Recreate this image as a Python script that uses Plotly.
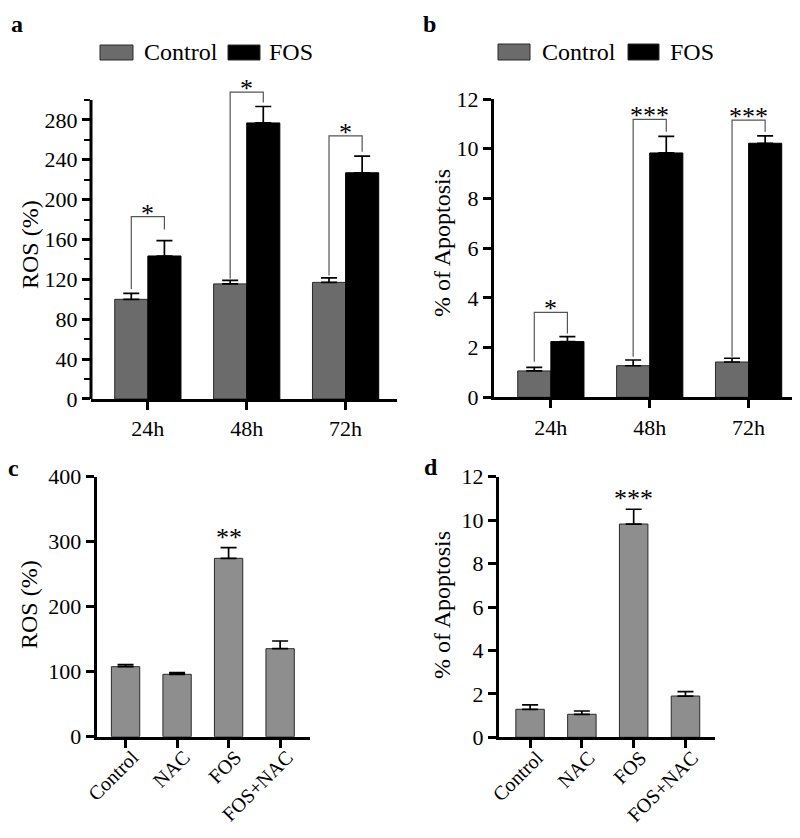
import plotly.graph_objects as go

# The page body has an 8px default margin, so the figure is drawn 8px in
# from the top-left corner of the 800x838 window.
PAGE_W, PAGE_H = 800, 838
OFF = 8
W, H = PAGE_W - OFF, PAGE_H - 2 * OFF
FONT = "Liberation Serif"
GRAY_DARK = "#6b6b6b"
GRAY_LIGHT = "#8e8e8e"
EDGE = "#2a2a2a"

# ---------------- data ----------------
time_points = ["24h", "48h", "72h"]

ros_control = [100, 115.5, 117]
ros_control_sem = [6, 3.5, 4.5]
ros_fos = [143.5, 277, 227]
ros_fos_sem = [15.5, 16.5, 16.6]
ros_bracket_top = [183, 308, 264]
ros_bracket_left = [110, 121, 124]
ros_bracket_right = [170, 297.5, 248]
ros_stars = ["*", "*", "*"]

apop_control = [1.06, 1.27, 1.42]
apop_control_sem = [0.14, 0.23, 0.15]
apop_fos = [2.24, 9.83, 10.22]
apop_fos_sem = [0.2, 0.67, 0.3]
apop_bracket_top = [3.42, 11.18, 11.15]
apop_bracket_left = [1.43, 1.63, 1.63]
apop_bracket_right = [2.57, 10.68, 10.68]
apop_stars = ["*", "***", "***"]

treatments = ["Control", "NAC", "FOS", "FOS+NAC"]
ros_treat = [107.7, 96, 274.4, 135.4]
ros_treat_sem = [3.3, 2.5, 16.4, 11.8]
ros_treat_stars = ["", "", "**", ""]
apop_treat = [1.29, 1.06, 9.82, 1.9]
apop_treat_sem = [0.2, 0.15, 0.68, 0.2]
apop_treat_stars = ["", "", "***", ""]

ros_ticks = [0, 40, 80, 120, 160, 200, 240, 280]
ros_minor = [20, 60, 100, 140, 180, 220, 260, 300]
apop_ticks = [0, 2, 4, 6, 8, 10, 12]
ros_treat_ticks = [0, 100, 200, 300, 400]

# ---------------- helpers ----------------
def px_x(p):
    return (p - OFF) / W

def px_y(p):
    return 1 - (p - OFF) / H

BW = 0.335   # grouped bar width (a, b)
BW2 = 0.55   # single bar width (c, d)

def err(sem):
    return dict(type="data", array=sem, arrayminus=[0] * len(sem), symmetric=False,
                color="black", thickness=1.7, width=8)

fig = go.Figure()

idx3 = list(range(len(time_points)))
idx4 = list(range(len(treatments)))

# panel a
fig.add_trace(go.Bar(x=idx3, y=ros_control, width=BW, offset=-BW, name="Control",
                     marker=dict(color=GRAY_DARK, line=dict(color=EDGE, width=1)),
                     error_y=err(ros_control_sem), xaxis="x", yaxis="y", showlegend=False))
fig.add_trace(go.Bar(x=idx3, y=ros_fos, width=BW, offset=0, name="FOS",
                     marker=dict(color="black", line=dict(color="black", width=1)),
                     error_y=err(ros_fos_sem), xaxis="x", yaxis="y", showlegend=False))
# panel b
fig.add_trace(go.Bar(x=idx3, y=apop_control, width=BW, offset=-BW, name="Control",
                     marker=dict(color=GRAY_DARK, line=dict(color=EDGE, width=1)),
                     error_y=err(apop_control_sem), xaxis="x2", yaxis="y2", showlegend=False))
fig.add_trace(go.Bar(x=idx3, y=apop_fos, width=BW, offset=0, name="FOS",
                     marker=dict(color="black", line=dict(color="black", width=1)),
                     error_y=err(apop_fos_sem), xaxis="x2", yaxis="y2", showlegend=False))
# panel c
fig.add_trace(go.Bar(x=idx4, y=ros_treat, width=BW2, name="ROS",
                     marker=dict(color=GRAY_LIGHT, line=dict(color=EDGE, width=1)),
                     error_y=err(ros_treat_sem), xaxis="x3", yaxis="y3", showlegend=False))
# panel d
fig.add_trace(go.Bar(x=idx4, y=apop_treat, width=BW2, name="Apoptosis",
                     marker=dict(color=GRAY_LIGHT, line=dict(color=EDGE, width=1)),
                     error_y=err(apop_treat_sem), xaxis="x4", yaxis="y4", showlegend=False))

shapes = []
annotations = []

STAR_FONT = dict(family=FONT, size=26, color="black")

# brackets and stars
def add_brackets(xref, yref, tops, lefts, rights, stars, yshift):
    for i in idx3:
        x0 = i - BW / 2
        x1 = i + BW / 2
        shapes.append(dict(type="path", xref=xref, yref=yref,
                           path=f"M {x0},{lefts[i]} L {x0},{tops[i]} L {x1},{tops[i]} L {x1},{rights[i]}",
                           line=dict(color="#555555", width=1.2)))
        annotations.append(dict(x=i, y=tops[i], xref=xref, yref=yref, text=stars[i],
                                showarrow=False, yanchor="bottom", yshift=yshift,
                                font=STAR_FONT))

add_brackets("x", "y", ros_bracket_top, ros_bracket_left, ros_bracket_right, ros_stars, -13)
add_brackets("x2", "y2", apop_bracket_top, apop_bracket_left, apop_bracket_right, apop_stars, -13)

def add_stars(xref, yref, vals, sems, stars, yshift):
    for i in idx4:
        if stars[i]:
            annotations.append(dict(x=i, y=vals[i] + sems[i], xref=xref, yref=yref, text=stars[i],
                                    showarrow=False, yanchor="bottom", yshift=yshift,
                                    font=STAR_FONT))

add_stars("x3", "y3", ros_treat, ros_treat_sem, ros_treat_stars, -6)
add_stars("x4", "y4", apop_treat, apop_treat_sem, apop_treat_stars, -6)

# panel a y axis line (axis range is extended so the bracket fits)
shapes.append(dict(type="line", xref="x domain", yref="y", x0=0, x1=0, y0=0, y1=300,
                   line=dict(color="black", width=3)))

# manual legends
def add_legend(items):
    for (x0, x1, y0, y1, color, label, tx) in items:
        shapes.append(dict(type="rect", xref="paper", yref="paper",
                           x0=px_x(x0), x1=px_x(x1), y0=px_y(y1), y1=px_y(y0),
                           fillcolor=color, line=dict(color=EDGE, width=1)))
        annotations.append(dict(x=px_x(tx), y=px_y((y0 + y1) / 2), xref="paper", yref="paper",
                                text=label, showarrow=False, xanchor="left", yanchor="middle",
                                font=dict(family=FONT, size=24, color="black")))

add_legend([(100, 133, 45, 60, GRAY_DARK, "Control", 142),
            (228, 260, 45, 60, "black", "FOS", 267)])
add_legend([(498, 530, 44, 60, GRAY_DARK, "Control", 540),
            (628, 659, 44, 60, "black", "FOS", 668)])

# panel letters (anchored so they stay inside the figure)
for letter, x, y in [("a", 9, 9), ("b", 421, 9), ("c", 6, 453), ("d", 422, 452)]:
    annotations.append(dict(x=px_x(x), y=px_y(y), xref="paper", yref="paper",
                            text=f"<b>{letter}</b>", showarrow=False,
                            xanchor="left", yanchor="top",
                            font=dict(family=FONT, size=24, color="black")))

# axis titles
for text, x, y in [("ROS (%)", 30, 245), ("% of Apoptosis", 442, 243),
                   ("ROS (%)", 29, 605), ("% of Apoptosis", 442, 605)]:
    annotations.append(dict(x=px_x(x), y=px_y(y), xref="paper", yref="paper", text=text,
                            textangle=-90, showarrow=False, xanchor="center", yanchor="middle",
                            font=dict(family=FONT, size=24, color="black")))

TICKFONT = dict(family=FONT, size=22, color="black")
TICKFONT_ROT = dict(family=FONT, size=20, color="black")

common_x = dict(showline=True, linewidth=3, linecolor="black", ticks="outside", ticklen=8,
                tickwidth=3, tickcolor="black", showgrid=False, zeroline=False,
                tickmode="array", fixedrange=True, automargin=False)
common_y = dict(showline=True, linewidth=3, linecolor="black", ticks="outside", ticklen=8,
                tickwidth=3, tickcolor="black", showgrid=False, zeroline=False,
                tickmode="array", tickfont=TICKFONT, fixedrange=True, automargin=False)

fig.update_layout(
    template="none",
    width=W, height=H, margin=dict(l=0, r=0, t=0, b=0, pad=0),
    paper_bgcolor="white", plot_bgcolor="white",
    font=dict(family=FONT, color="black"),
    barmode="overlay",
    xaxis=dict(common_x, domain=[px_x(91), px_x(397)], range=[-0.575, 2.52],
               tickvals=idx3, ticktext=time_points, tickfont=TICKFONT, anchor="y"),
    yaxis=dict(common_y, domain=[px_y(399), px_y(399 - 320 * 299 / 300)], range=[0, 320],
               showline=False, tickvals=ros_ticks,
               minor=dict(tickmode="array", tickvals=ros_minor, ticks="outside", ticklen=6,
                          tickwidth=2, tickcolor="black", showgrid=False),
               anchor="x"),
    xaxis2=dict(common_x, domain=[px_x(494), 1.0], range=[-0.575, 2.52],
                tickvals=idx3, ticktext=time_points, tickfont=TICKFONT, anchor="y2"),
    yaxis2=dict(common_y, domain=[px_y(397.3), px_y(99)], range=[0, 12],
                tickvals=apop_ticks, anchor="x2"),
    xaxis3=dict(common_x, domain=[px_x(96.7), px_x(310)], range=[-0.56, 3.58],
                tickvals=idx4, ticktext=treatments, tickangle=-45, tickfont=TICKFONT_ROT,
                ticklabelshift=7, ticklabelstandoff=-10, anchor="y3"),
    yaxis3=dict(common_y, domain=[px_y(736.7), px_y(476.7)], range=[0, 400],
                tickvals=ros_treat_ticks, anchor="x3"),
    xaxis4=dict(common_x, domain=[px_x(499), px_x(715)], range=[-0.6, 3.57],
                tickvals=idx4, ticktext=treatments, tickangle=-45, tickfont=TICKFONT_ROT,
                ticklabelshift=7, ticklabelstandoff=-10, anchor="y4"),
    yaxis4=dict(common_y, domain=[px_y(737.3), px_y(476.7)], range=[0, 12],
                tickvals=apop_ticks, anchor="x4"),
    shapes=shapes,
    annotations=annotations,
)

fig.write_html("out.html")
